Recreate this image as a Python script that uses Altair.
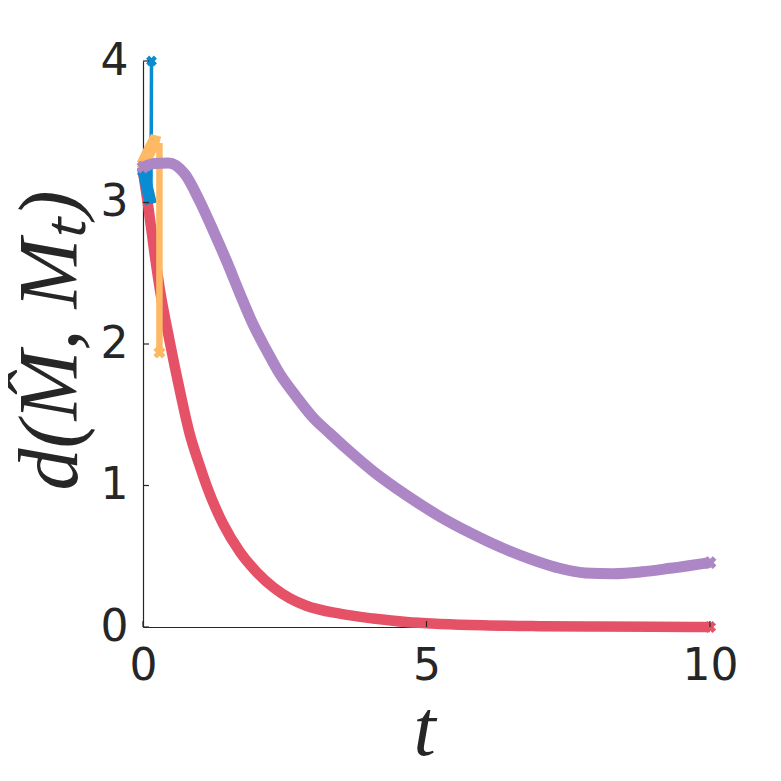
import altair as alt
import pandas as pd

# ---- data ----
red_t = [0.0, 0.1, 0.2, 0.3, 0.47, 0.65, 0.82, 1.0, 1.12, 1.41, 1.71, 2.0, 2.3, 2.6, 2.88,
         3.47, 4.06, 4.65, 5.24, 6.0, 7.0, 8.0, 9.0, 10.0]
red_d = [3.22, 2.95, 2.65, 2.38, 2.02, 1.67, 1.37, 1.14, 1.0, 0.73, 0.53, 0.39, 0.28, 0.2, 0.15,
         0.094, 0.06, 0.035, 0.022, 0.012, 0.006, 0.003, 0.001, 0.0]

purple_t = [0.0, 0.2, 0.45, 0.74, 1.0, 1.24, 1.47, 1.71, 1.94, 2.18, 2.41, 2.71, 3.0, 3.29, 3.59,
            4.06, 4.65, 5.24, 5.8, 6.3, 6.8, 7.3, 7.8, 8.3, 8.8, 9.3, 10.0]
purple_d = [3.25, 3.275, 3.28, 3.20, 3.01, 2.80, 2.59, 2.355, 2.14, 1.955, 1.79, 1.625, 1.48, 1.37, 1.26,
            1.10, 0.93, 0.78, 0.66, 0.565, 0.485, 0.42, 0.382, 0.377, 0.39, 0.415, 0.455]

blue_t = [0.0, 0.07, 0.14, 0.14, 0.15]
blue_d = [3.24, 3.11, 2.99, 2.99, 4.0]
blue_seg = [0, 0, 0, 1, 1]

orange_t = [0.0, 0.12, 0.2, 0.29, 0.29, 0.29]
orange_d = [3.27, 3.37, 3.43, 3.42, 3.42, 1.94]
orange_seg = [0, 0, 0, 0, 1, 1]

y_ticks = [0, 1, 2, 3, 4]
x_ticks = [0, 5, 10]

colors = {"red": "#E55167", "blue": "#0A8CD2", "orange": "#FDB963", "purple": "#AC86C5"}
axis_col = "#262626"
W, H = 567, 566

red = pd.DataFrame({"t": red_t, "d": red_d, "i": range(len(red_t))})
purple = pd.DataFrame({"t": purple_t, "d": purple_d, "i": range(len(purple_t))})
blue = pd.DataFrame({"t": blue_t, "d": blue_d, "seg": blue_seg, "i": range(len(blue_t))})
orange = pd.DataFrame({"t": orange_t, "d": orange_d, "seg": orange_seg, "i": range(len(orange_t))})

xs = alt.Scale(domain=[0, 10], nice=False)
ys = alt.Scale(domain=[0, 4], nice=False)

xax = alt.Axis(values=x_ticks, grid=False, ticks=False, format="d",
               labelFont="DejaVu Sans", labelFontSize=44, labelColor=axis_col, labelPadding=17,
               labelFlush=False, domainColor=axis_col, domainWidth=1.2,
               titleFont="Liberation Serif", titleFontStyle="italic", titleFontWeight="normal",
               titleFontSize=80, titleColor=axis_col, titleX=281, titleY=127,
               titleBaseline="alphabetic", titleAlign="center")
yax = alt.Axis(values=y_ticks, grid=False, ticks=False, format="d",
               labelFont="DejaVu Sans", labelFontSize=44, labelColor=axis_col, labelPadding=15,
               labelFlush=False, domainColor=axis_col, domainWidth=1.2,
               titleFont="Liberation Serif", titleFontStyle="italic", titleFontWeight="normal",
               titleFontSize=84, titleColor=axis_col, titleAngle=270, titleX=-67, titleY=279,
               titleBaseline="alphabetic", titleAlign="center")

base_red = alt.Chart(red).mark_line(color=colors["red"], strokeWidth=10.5, interpolate="monotone").encode(
    x=alt.X("t:Q", scale=xs, title="t", axis=xax),
    y=alt.Y("d:Q", scale=ys, title="d(M\u0302, M\u209c)", axis=yax),
    order="i:Q",
)
purple_line = alt.Chart(purple).mark_line(color=colors["purple"], strokeWidth=11,
                                          interpolate="monotone").encode(
    x="t:Q", y="d:Q", order="i:Q")


def seg_lines(df, col, wide, thin):
    a = alt.Chart(df[df.seg == 0]).mark_line(color=col, strokeWidth=wide).encode(
        x="t:Q", y="d:Q", order="i:Q")
    b = alt.Chart(df[df.seg == 1]).mark_line(color=col, strokeWidth=thin).encode(
        x="t:Q", y="d:Q", order="i:Q")
    return [a, b]


def ends(df, col, size):
    e = df.iloc[[0, len(df) - 1]]
    return alt.Chart(e).mark_point(shape="cross", angle=45, filled=True, size=size,
                                   color=col, opacity=1).encode(x="t:Q", y="d:Q")


ytick_df = pd.DataFrame({"v": y_ticks})
xtick_df = pd.DataFrame({"v": x_ticks})
yticks = alt.Chart(ytick_df).mark_rule(color=axis_col, strokeWidth=1.2).encode(
    y="v:Q", x=alt.value(0), x2=alt.value(6))
xticks = alt.Chart(xtick_df).mark_rule(color=axis_col, strokeWidth=1.2).encode(
    x="v:Q", y=alt.value(H), y2=alt.value(H - 6))

chart = alt.layer(
    base_red,
    ends(red, colors["red"], 150),
    *seg_lines(blue, colors["blue"], 12, 3.5),
    ends(blue, colors["blue"], 120),
    *seg_lines(orange, colors["orange"], 13, 6.5),
    ends(orange, colors["orange"], 150),
    purple_line,
    ends(purple, colors["purple"], 170),
    yticks,
    xticks,
).properties(
    width=W, height=H,
    padding={"left": 0, "top": 31, "right": 5, "bottom": 5},
).configure_view(stroke=None)

chart.save("out.html", embed_options={"renderer": "svg", "actions": False})
